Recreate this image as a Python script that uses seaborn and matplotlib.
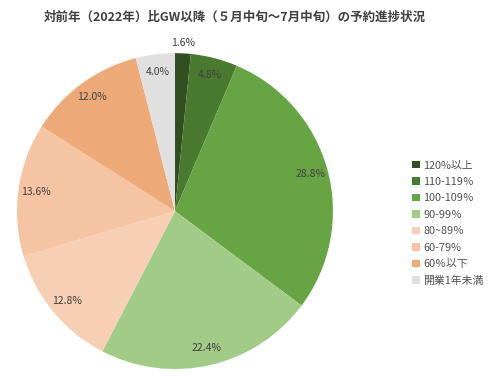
import matplotlib
matplotlib.use("Agg")
import matplotlib.pyplot as plt
import seaborn as sns
from matplotlib.patches import Patch

sns.set_theme(style="white")
plt.rcParams['font.family'] = ['Noto Sans CJK JP', 'DejaVu Sans']

categories = ["120%以上", "110-119％", "100-109％", "90-99％", "80~89％", "60-79%", "60％以下", "開業1年未満"]
values = [1.6, 4.8, 28.8, 22.4, 12.8, 13.6, 12.0, 4.0]
colors = ["#324f21", "#4a7a30", "#67a443", "#a1cb86", "#f7cfb5", "#f4c4a3", "#eea979", "#e0e0e0"]
title = "対前年（2022年）比GW以降（５月中旬～7月中旬）の予約進捗状況"

fig = plt.figure(figsize=(5, 3.76), dpi=100)
ax = fig.add_axes([0.034, 0.0186, 0.632, 0.840])
wedges, texts = ax.pie(values, colors=colors, startangle=90, counterclock=False,
                       radius=1, labels=[f"{v:.1f}%" for v in values],
                       labeldistance=0.89,
                       wedgeprops=dict(linewidth=0),
                       textprops=dict(fontsize=7.5, color="#404040"))
for t in texts:
    t.set_ha("center")
    t.set_va("center")
x, y = texts[0].get_position()
texts[0].set_position((x * 1.2, y * 1.2))
ax.set_xlim(-1, 1)
ax.set_ylim(-1, 1)
ax.set_aspect("equal")
ax.axis("off")

fig.text(0.47, 0.953, title, ha="center", va="center", fontsize=9.0,
         fontweight="bold", color="#404040")

handles = [Patch(facecolor=c, edgecolor="none") for c in colors]
fig.legend(handles, categories, loc="upper left", bbox_to_anchor=(0.805, 0.6),
           frameon=False, fontsize=7.8, handlelength=0.7, handleheight=0.7,
           handletextpad=0.3, labelspacing=0.6, labelcolor="#505050")

fig.savefig("out.png", dpi=100)
